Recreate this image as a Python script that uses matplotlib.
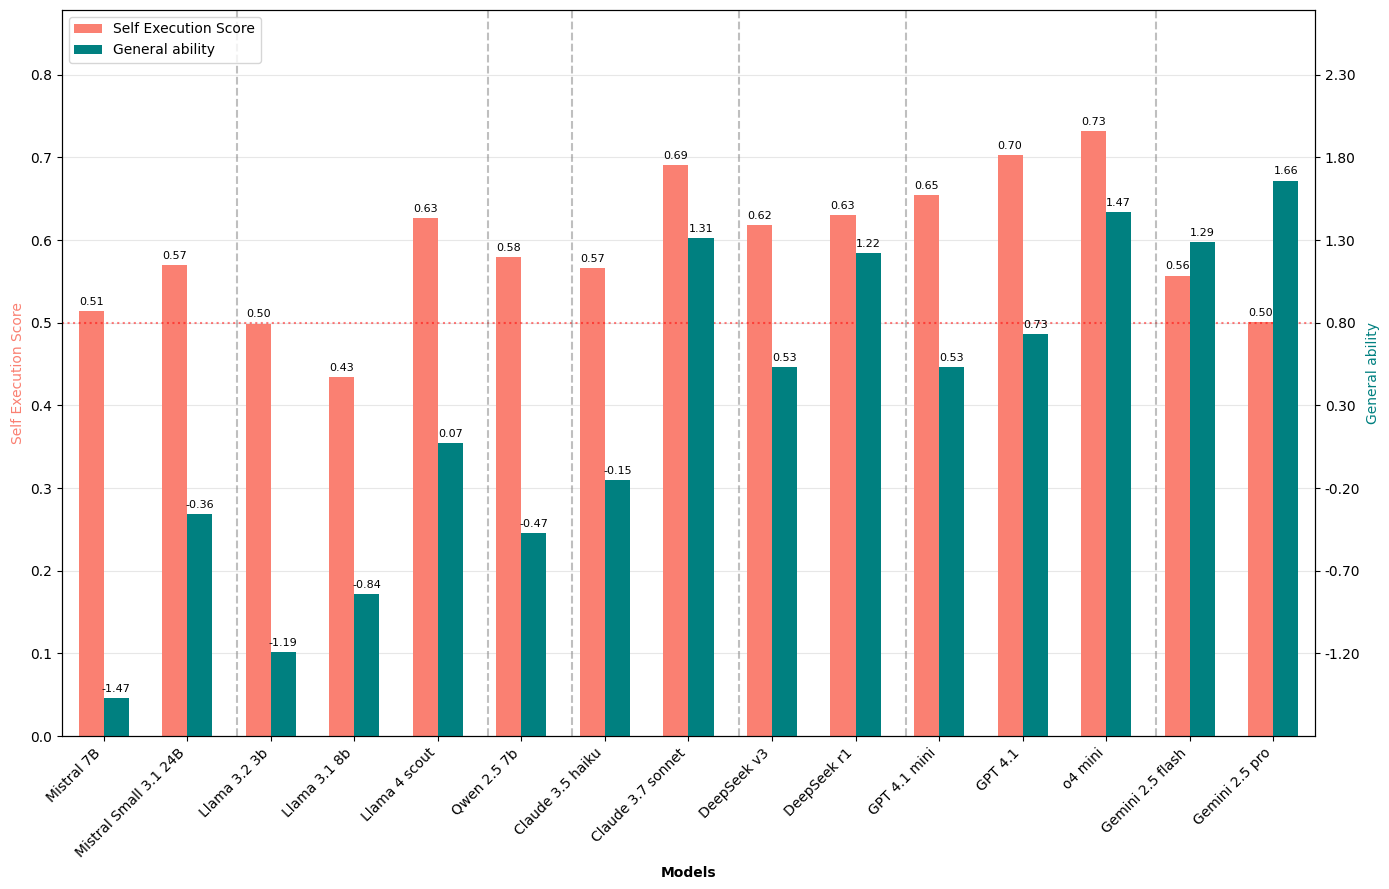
import matplotlib.pyplot as plt
import numpy as np

models = ["Mistral 7B", "Mistral Small 3.1 24B", "Llama 3.2 3b", "Llama 3.1 8b",
          "Llama 4 scout", "Qwen 2.5 7b", "Claude 3.5 haiku", "Claude 3.7 sonnet",
          "DeepSeek v3", "DeepSeek r1", "GPT 4.1 mini", "GPT 4.1", "o4 mini",
          "Gemini 2.5 flash", "Gemini 2.5 pro"]
self_exec = [0.514, 0.570, 0.499, 0.434, 0.627, 0.579, 0.566, 0.691, 0.618,
             0.630, 0.654, 0.703, 0.732, 0.557, 0.501]
general = [-1.47, -0.36, -1.19, -0.84, 0.07, -0.47, -0.15, 1.31, 0.53,
           1.22, 0.53, 0.73, 1.47, 1.29, 1.66]
# separators after these model indices (model families)
group_ends = [1, 4, 5, 7, 9, 12]

c_self = '#FA8072'
c_gen = '#008080'

fig, ax1 = plt.subplots(figsize=(13.89, 8.89), dpi=100)
ax2 = ax1.twinx()

x = np.arange(len(models))
w = 0.3

# left axis limits, right axis aligned so 0.5 <-> 0.8
top = max(self_exec) * 1.2
ax1.set_ylim(0, top)
scale = 5.0
r_lo = 0.8 - scale * 0.5
r_hi = 0.8 + scale * (top - 0.5)
ax2.set_ylim(r_lo, r_hi)

b1 = ax1.bar(x - w / 2, self_exec, w, color=c_self, label='Self Execution Score')
gen_h = [g - r_lo for g in general]
b2 = ax2.bar(x + w / 2, gen_h, w, bottom=r_lo, color=c_gen, label='General ability')

for xi, v in zip(x, self_exec):
    ax1.text(xi - w / 2, v + 0.005, f'{v:.2f}', ha='center', va='bottom', fontsize=8)
for xi, v in zip(x, general):
    ax2.text(xi + w / 2, v + 0.025, f'{v:.2f}', ha='center', va='bottom', fontsize=8)

ax1.axhline(0.5, color='red', linestyle=':', alpha=0.5)
for g in group_ends:
    ax1.axvline(g + 2 * w, color='gray', linestyle='--', alpha=0.5, linewidth=1.5)

ax1.set_xlim(-0.5, len(models) - 0.5)
ax1.set_xticks(x)
ax1.set_xticklabels(models, rotation=45, ha='right')
ax1.set_yticks(np.arange(0, 0.81, 0.1))
ax2.set_yticks(np.arange(-1.2, 2.31, 0.5))
ax2.set_yticklabels([f'{t:.2f}' for t in np.arange(-1.2, 2.31, 0.5)])

ax1.set_xlabel('Models', fontweight='bold')
ax1.set_ylabel('Self Execution Score', color=c_self)
ax2.set_ylabel('General ability', color=c_gen)
ax1.grid(True, axis='y', alpha=0.3)
ax1.set_axisbelow(True)

ax1.legend([b1, b2], ['Self Execution Score', 'General ability'], loc='upper left')

plt.subplots_adjust(left=0.0446, right=0.9467, top=0.9888, bottom=0.1721)
plt.savefig('out.png', dpi=100)
